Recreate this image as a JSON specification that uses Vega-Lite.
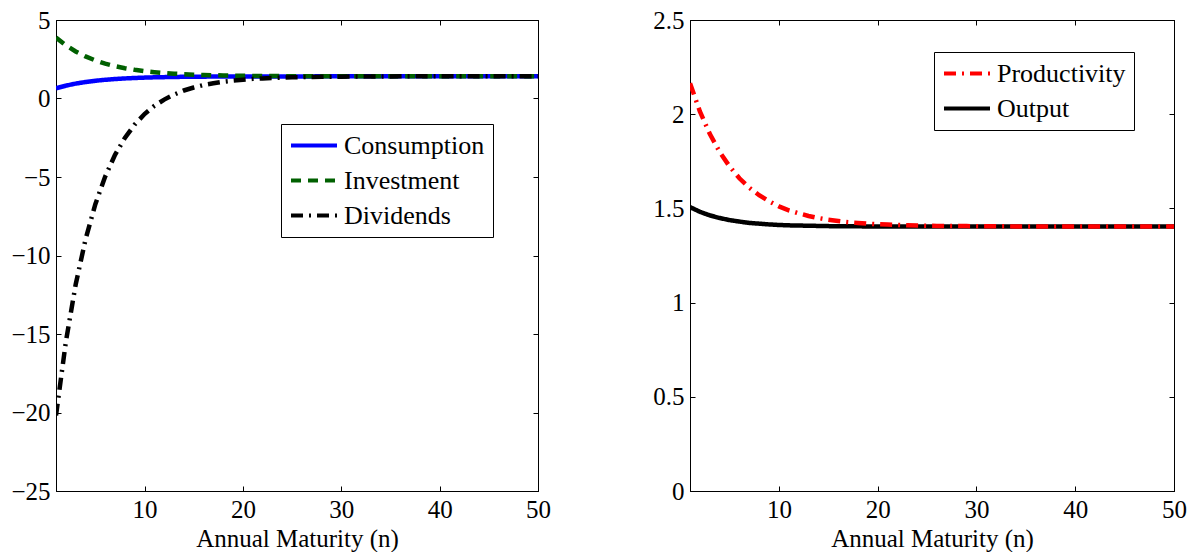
{
  "$schema": "https://vega.github.io/schema/vega-lite/v6.json",
  "background": "white",
  "padding": {"left": 10, "top": 7, "right": 2, "bottom": 0},
  "bounds": "flush",
  "spacing": 152,
  "config": {
    "font": "Liberation Serif",
    "view": {"stroke": "black", "strokeWidth": 1},
    "axis": {
      "labelFont": "Liberation Serif",
      "labelFontSize": 25,
      "labelColor": "black",
      "titleFont": "Liberation Serif",
      "titleFontSize": 25,
      "titleFontWeight": "normal",
      "titleColor": "black",
      "domainColor": "black",
      "tickColor": "black",
      "tickSize": -5,
      "labelPadding": 11,
      "grid": false,
      "labelFlush": false,
      "labelOverlap": false
    },
    "legend": {
      "labelFont": "Liberation Serif",
      "labelFontSize": 26,
      "labelColor": "black",
      "strokeColor": "black",
      "fillColor": "white",
      "symbolType": "M-1,0H3",
      "symbolSize": 529,
      "symbolStrokeWidth": 4,
      "labelOffset": 28,
      "padding": 8,
      "rowPadding": 8,
      "cornerRadius": 0
    }
  },
  "datasets": {
    "left": [
      {"n":1,"series":"Consumption","value":0.65},{"n":2,"series":"Consumption","value":0.818},{"n":3,"series":"Consumption","value":0.949},{"n":4,"series":"Consumption","value":1.051},{"n":5,"series":"Consumption","value":1.13},{"n":6,"series":"Consumption","value":1.192},{"n":7,"series":"Consumption","value":1.24},{"n":8,"series":"Consumption","value":1.278},{"n":9,"series":"Consumption","value":1.307},{"n":10,"series":"Consumption","value":1.33},
      {"n":11,"series":"Consumption","value":1.348},{"n":12,"series":"Consumption","value":1.361},{"n":13,"series":"Consumption","value":1.372},{"n":14,"series":"Consumption","value":1.381},{"n":15,"series":"Consumption","value":1.387},{"n":16,"series":"Consumption","value":1.392},{"n":17,"series":"Consumption","value":1.396},{"n":18,"series":"Consumption","value":1.399},{"n":19,"series":"Consumption","value":1.402},{"n":20,"series":"Consumption","value":1.403},
      {"n":21,"series":"Consumption","value":1.405},{"n":22,"series":"Consumption","value":1.406},{"n":23,"series":"Consumption","value":1.407},{"n":24,"series":"Consumption","value":1.408},{"n":25,"series":"Consumption","value":1.408},{"n":26,"series":"Consumption","value":1.409},{"n":27,"series":"Consumption","value":1.409},{"n":28,"series":"Consumption","value":1.41},{"n":29,"series":"Consumption","value":1.41},{"n":30,"series":"Consumption","value":1.41},
      {"n":31,"series":"Consumption","value":1.41},{"n":32,"series":"Consumption","value":1.41},{"n":33,"series":"Consumption","value":1.41},{"n":34,"series":"Consumption","value":1.41},{"n":35,"series":"Consumption","value":1.41},{"n":36,"series":"Consumption","value":1.41},{"n":37,"series":"Consumption","value":1.41},{"n":38,"series":"Consumption","value":1.41},{"n":39,"series":"Consumption","value":1.41},{"n":40,"series":"Consumption","value":1.41},
      {"n":41,"series":"Consumption","value":1.41},{"n":42,"series":"Consumption","value":1.41},{"n":43,"series":"Consumption","value":1.41},{"n":44,"series":"Consumption","value":1.41},{"n":45,"series":"Consumption","value":1.41},{"n":46,"series":"Consumption","value":1.41},{"n":47,"series":"Consumption","value":1.41},{"n":48,"series":"Consumption","value":1.41},{"n":49,"series":"Consumption","value":1.41},{"n":50,"series":"Consumption","value":1.41},
      {"n":1,"series":"Investment","value":3.88},{"n":2,"series":"Investment","value":3.388},{"n":3,"series":"Investment","value":2.994},{"n":4,"series":"Investment","value":2.678},{"n":5,"series":"Investment","value":2.425},{"n":6,"series":"Investment","value":2.223},{"n":7,"series":"Investment","value":2.061},{"n":8,"series":"Investment","value":1.931},{"n":9,"series":"Investment","value":1.827},{"n":10,"series":"Investment","value":1.744},
      {"n":11,"series":"Investment","value":1.678},{"n":12,"series":"Investment","value":1.624},{"n":13,"series":"Investment","value":1.582},{"n":14,"series":"Investment","value":1.547},{"n":15,"series":"Investment","value":1.52},{"n":16,"series":"Investment","value":1.498},{"n":17,"series":"Investment","value":1.481},{"n":18,"series":"Investment","value":1.467},{"n":19,"series":"Investment","value":1.455},{"n":20,"series":"Investment","value":1.446},
      {"n":21,"series":"Investment","value":1.439},{"n":22,"series":"Investment","value":1.433},{"n":23,"series":"Investment","value":1.429},{"n":24,"series":"Investment","value":1.425},{"n":25,"series":"Investment","value":1.422},{"n":26,"series":"Investment","value":1.42},{"n":27,"series":"Investment","value":1.418},{"n":28,"series":"Investment","value":1.416},{"n":29,"series":"Investment","value":1.415},{"n":30,"series":"Investment","value":1.414},
      {"n":31,"series":"Investment","value":1.413},{"n":32,"series":"Investment","value":1.412},{"n":33,"series":"Investment","value":1.412},{"n":34,"series":"Investment","value":1.411},{"n":35,"series":"Investment","value":1.411},{"n":36,"series":"Investment","value":1.41},{"n":37,"series":"Investment","value":1.41},{"n":38,"series":"Investment","value":1.41},{"n":39,"series":"Investment","value":1.41},{"n":40,"series":"Investment","value":1.41},
      {"n":41,"series":"Investment","value":1.41},{"n":42,"series":"Investment","value":1.41},{"n":43,"series":"Investment","value":1.41},{"n":44,"series":"Investment","value":1.41},{"n":45,"series":"Investment","value":1.41},{"n":46,"series":"Investment","value":1.41},{"n":47,"series":"Investment","value":1.41},{"n":48,"series":"Investment","value":1.41},{"n":49,"series":"Investment","value":1.41},{"n":50,"series":"Investment","value":1.41},
      {"n":1,"series":"Dividends","value":-20.19},{"n":2,"series":"Dividends","value":-15.51},{"n":3,"series":"Dividends","value":-11.85},{"n":4,"series":"Dividends","value":-8.98},{"n":5,"series":"Dividends","value":-6.73},{"n":6,"series":"Dividends","value":-4.97},{"n":7,"series":"Dividends","value":-3.59},{"n":8,"series":"Dividends","value":-2.51},{"n":9,"series":"Dividends","value":-1.66},{"n":10,"series":"Dividends","value":-0.99},
      {"n":11,"series":"Dividends","value":-0.47},{"n":12,"series":"Dividends","value":-0.07},{"n":13,"series":"Dividends","value":0.25},{"n":14,"series":"Dividends","value":0.51},{"n":15,"series":"Dividends","value":0.7},{"n":16,"series":"Dividends","value":0.86},{"n":17,"series":"Dividends","value":0.97},{"n":18,"series":"Dividends","value":1.07},{"n":19,"series":"Dividends","value":1.14},{"n":20,"series":"Dividends","value":1.2},
      {"n":21,"series":"Dividends","value":1.25},{"n":22,"series":"Dividends","value":1.28},{"n":23,"series":"Dividends","value":1.31},{"n":24,"series":"Dividends","value":1.33},{"n":25,"series":"Dividends","value":1.35},{"n":26,"series":"Dividends","value":1.36},{"n":27,"series":"Dividends","value":1.37},{"n":28,"series":"Dividends","value":1.38},{"n":29,"series":"Dividends","value":1.39},{"n":30,"series":"Dividends","value":1.39},
      {"n":31,"series":"Dividends","value":1.4},{"n":32,"series":"Dividends","value":1.4},{"n":33,"series":"Dividends","value":1.4},{"n":34,"series":"Dividends","value":1.4},{"n":35,"series":"Dividends","value":1.4},{"n":36,"series":"Dividends","value":1.41},{"n":37,"series":"Dividends","value":1.41},{"n":38,"series":"Dividends","value":1.41},{"n":39,"series":"Dividends","value":1.41},{"n":40,"series":"Dividends","value":1.41},
      {"n":41,"series":"Dividends","value":1.41},{"n":42,"series":"Dividends","value":1.41},{"n":43,"series":"Dividends","value":1.41},{"n":44,"series":"Dividends","value":1.41},{"n":45,"series":"Dividends","value":1.41},{"n":46,"series":"Dividends","value":1.41},{"n":47,"series":"Dividends","value":1.41},{"n":48,"series":"Dividends","value":1.41},{"n":49,"series":"Dividends","value":1.41},{"n":50,"series":"Dividends","value":1.41}
    ],
    "right": [
      {"n":1,"series":"Output","value":1.507},{"n":2,"series":"Output","value":1.482},{"n":3,"series":"Output","value":1.463},{"n":4,"series":"Output","value":1.449},{"n":5,"series":"Output","value":1.438},{"n":6,"series":"Output","value":1.43},{"n":7,"series":"Output","value":1.423},{"n":8,"series":"Output","value":1.419},{"n":9,"series":"Output","value":1.415},{"n":10,"series":"Output","value":1.412},
      {"n":11,"series":"Output","value":1.41},{"n":12,"series":"Output","value":1.409},{"n":13,"series":"Output","value":1.408},{"n":14,"series":"Output","value":1.407},{"n":15,"series":"Output","value":1.406},{"n":16,"series":"Output","value":1.405},{"n":17,"series":"Output","value":1.405},{"n":18,"series":"Output","value":1.405},{"n":19,"series":"Output","value":1.404},{"n":20,"series":"Output","value":1.404},
      {"n":21,"series":"Output","value":1.404},{"n":22,"series":"Output","value":1.404},{"n":23,"series":"Output","value":1.404},{"n":24,"series":"Output","value":1.404},{"n":25,"series":"Output","value":1.404},{"n":26,"series":"Output","value":1.404},{"n":27,"series":"Output","value":1.404},{"n":28,"series":"Output","value":1.404},{"n":29,"series":"Output","value":1.404},{"n":30,"series":"Output","value":1.404},
      {"n":31,"series":"Output","value":1.404},{"n":32,"series":"Output","value":1.404},{"n":33,"series":"Output","value":1.404},{"n":34,"series":"Output","value":1.404},{"n":35,"series":"Output","value":1.404},{"n":36,"series":"Output","value":1.404},{"n":37,"series":"Output","value":1.404},{"n":38,"series":"Output","value":1.404},{"n":39,"series":"Output","value":1.404},{"n":40,"series":"Output","value":1.404},
      {"n":41,"series":"Output","value":1.404},{"n":42,"series":"Output","value":1.404},{"n":43,"series":"Output","value":1.404},{"n":44,"series":"Output","value":1.404},{"n":45,"series":"Output","value":1.404},{"n":46,"series":"Output","value":1.404},{"n":47,"series":"Output","value":1.404},{"n":48,"series":"Output","value":1.404},{"n":49,"series":"Output","value":1.404},{"n":50,"series":"Output","value":1.404},
      {"n":1,"series":"Productivity","value":2.164},{"n":2,"series":"Productivity","value":2.015},{"n":3,"series":"Productivity","value":1.896},{"n":4,"series":"Productivity","value":1.8},{"n":5,"series":"Productivity","value":1.723},{"n":6,"series":"Productivity","value":1.66},{"n":7,"series":"Productivity","value":1.61},{"n":8,"series":"Productivity","value":1.57},{"n":9,"series":"Productivity","value":1.538},{"n":10,"series":"Productivity","value":1.511},
      {"n":11,"series":"Productivity","value":1.49},{"n":12,"series":"Productivity","value":1.474},{"n":13,"series":"Productivity","value":1.46},{"n":14,"series":"Productivity","value":1.449},{"n":15,"series":"Productivity","value":1.44},{"n":16,"series":"Productivity","value":1.433},{"n":17,"series":"Productivity","value":1.427},{"n":18,"series":"Productivity","value":1.423},{"n":19,"series":"Productivity","value":1.419},{"n":20,"series":"Productivity","value":1.416},
      {"n":21,"series":"Productivity","value":1.414},{"n":22,"series":"Productivity","value":1.412},{"n":23,"series":"Productivity","value":1.41},{"n":24,"series":"Productivity","value":1.409},{"n":25,"series":"Productivity","value":1.408},{"n":26,"series":"Productivity","value":1.407},{"n":27,"series":"Productivity","value":1.406},{"n":28,"series":"Productivity","value":1.406},{"n":29,"series":"Productivity","value":1.406},{"n":30,"series":"Productivity","value":1.405},
      {"n":31,"series":"Productivity","value":1.405},{"n":32,"series":"Productivity","value":1.405},{"n":33,"series":"Productivity","value":1.405},{"n":34,"series":"Productivity","value":1.404},{"n":35,"series":"Productivity","value":1.404},{"n":36,"series":"Productivity","value":1.404},{"n":37,"series":"Productivity","value":1.404},{"n":38,"series":"Productivity","value":1.404},{"n":39,"series":"Productivity","value":1.404},{"n":40,"series":"Productivity","value":1.404},
      {"n":41,"series":"Productivity","value":1.404},{"n":42,"series":"Productivity","value":1.404},{"n":43,"series":"Productivity","value":1.404},{"n":44,"series":"Productivity","value":1.404},{"n":45,"series":"Productivity","value":1.404},{"n":46,"series":"Productivity","value":1.404},{"n":47,"series":"Productivity","value":1.404},{"n":48,"series":"Productivity","value":1.404},{"n":49,"series":"Productivity","value":1.404},{"n":50,"series":"Productivity","value":1.404}
    ]
  },
  "hconcat": [
    {
      "width": 482,
      "height": 471,
      "data": {"name": "left"},
      "layer": [
        {
          "mark": {"type": "line", "strokeWidth": 4.5, "clip": true},
          "encoding": {
            "x": {"field": "n", "type": "quantitative", "scale": {"domain": [1, 50], "nice": false, "zero": false}, "axis": {"orient": "bottom", "values": [10, 20, 30, 40, 50], "title": "Annual Maturity (n)", "titlePadding": 4}},
            "y": {"field": "value", "type": "quantitative", "scale": {"domain": [-25, 5], "nice": false, "zero": false}, "axis": {"orient": "left", "values": [-25, -20, -15, -10, -5, 0, 5], "title": null, "format": "~g"}},
            "color": {"field": "series", "type": "nominal", "scale": {"domain": ["Consumption", "Investment", "Dividends"], "range": ["#0000ff", "#006000", "#000000"]}, "legend": {"title": null, "orient": "none", "legendX": 225, "legendY": 104}},
            "strokeDash": {"field": "series", "type": "nominal", "scale": {"domain": ["Consumption", "Investment", "Dividends"], "range": [[1, 0], [10, 7], [12, 6, 2, 6]]}, "legend": {"title": null, "orient": "none", "legendX": 225, "legendY": 104}}
          }
        },
        {
          "mark": {"type": "line", "opacity": 0},
          "encoding": {
            "x": {"field": "n", "type": "quantitative", "axis": {"orient": "top", "values": [10, 20, 30, 40, 50], "labels": false, "title": null}},
            "y": {"field": "value", "type": "quantitative", "axis": {"orient": "right", "values": [-25, -20, -15, -10, -5, 0, 5], "labels": false, "title": null}},
            "detail": {"field": "series", "type": "nominal"}
          }
        }
      ],
      "resolve": {"axis": {"x": "independent", "y": "independent"}}
    },
    {
      "width": 484,
      "height": 471,
      "data": {"name": "right"},
      "layer": [
        {
          "mark": {"type": "line", "strokeWidth": 4.5, "clip": true},
          "encoding": {
            "x": {"field": "n", "type": "quantitative", "scale": {"domain": [1, 50], "nice": false, "zero": false}, "axis": {"orient": "bottom", "values": [10, 20, 30, 40, 50], "title": "Annual Maturity (n)", "titlePadding": 4}},
            "y": {"field": "value", "type": "quantitative", "scale": {"domain": [0, 2.5], "nice": false, "zero": false}, "axis": {"orient": "left", "values": [0, 0.5, 1, 1.5, 2, 2.5], "title": null, "format": "~g"}},
            "color": {"field": "series", "type": "nominal", "scale": {"domain": ["Productivity", "Output"], "range": ["#ff0000", "#000000"]}, "legend": {"title": null, "orient": "none", "legendX": 244, "legendY": 32}},
            "strokeDash": {"field": "series", "type": "nominal", "scale": {"domain": ["Productivity", "Output"], "range": [[12, 6, 2, 6], [1, 0]]}, "legend": {"title": null, "orient": "none", "legendX": 244, "legendY": 32}}
          }
        },
        {
          "mark": {"type": "line", "opacity": 0},
          "encoding": {
            "x": {"field": "n", "type": "quantitative", "axis": {"orient": "top", "values": [10, 20, 30, 40, 50], "labels": false, "title": null}},
            "y": {"field": "value", "type": "quantitative", "axis": {"orient": "right", "values": [0, 0.5, 1, 1.5, 2, 2.5], "labels": false, "title": null}},
            "detail": {"field": "series", "type": "nominal"}
          }
        }
      ],
      "resolve": {"axis": {"x": "independent", "y": "independent"}}
    }
  ],
  "resolve": {"scale": {"color": "independent", "strokeDash": "independent", "x": "independent", "y": "independent"}, "legend": {"color": "independent", "strokeDash": "independent"}}
}
